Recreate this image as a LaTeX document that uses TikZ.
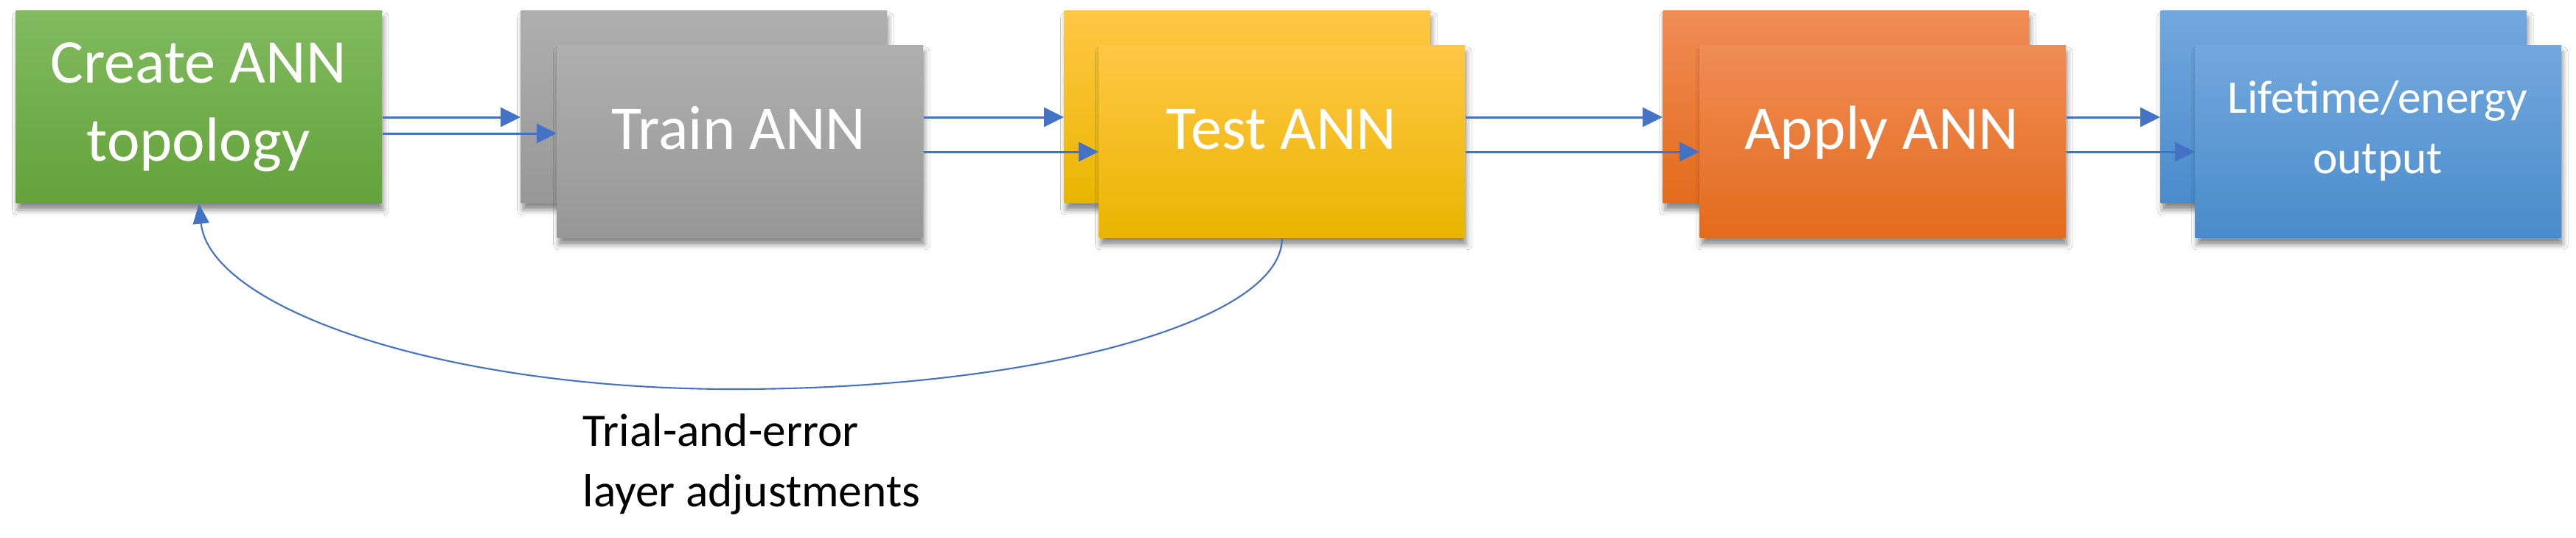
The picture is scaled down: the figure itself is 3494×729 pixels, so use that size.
\documentclass[tikz,border=0pt]{standalone}
\usepackage{fontspec}
\setmainfont{Carlito}
\usetikzlibrary{arrows.meta,shadows.blur}
\definecolor{arrowblue}{HTML}{4472C4}
\definecolor{gTop}{HTML}{81BA60}\definecolor{gMid}{HTML}{70AD47}\definecolor{gBot}{HTML}{64A23A}
\definecolor{kTop}{HTML}{AFAFAF}\definecolor{kMid}{HTML}{A5A5A5}\definecolor{kBot}{HTML}{979797}
\definecolor{yTop}{HTML}{FFC745}\definecolor{yMid}{HTML}{FFC000}\definecolor{yBot}{HTML}{EAB500}
\definecolor{oTop}{HTML}{F08C55}\definecolor{oMid}{HTML}{ED7D31}\definecolor{oBot}{HTML}{E36B1C}
\definecolor{bTop}{HTML}{72A8DD}\definecolor{bMid}{HTML}{5B9BD5}\definecolor{bBot}{HTML}{4A8BCB}
\tikzset{
  stage/.style={anchor=north west, minimum width=4.96cm, minimum height=2.61cm,
    inner sep=0pt, draw=none,
    blur shadow={shadow xshift=0.02cm, shadow yshift=-0.09cm, shadow blur radius=0.07cm, shadow opacity=45}},
  gbox/.style={stage, top color=gTop, middle color=gMid, bottom color=gBot},
  kbox/.style={stage, top color=kTop, middle color=kMid, bottom color=kBot},
  ybox/.style={stage, top color=yTop, middle color=yMid, bottom color=yBot},
  obox/.style={stage, top color=oTop, middle color=oMid, bottom color=oBot},
  bbox/.style={stage, top color=bTop, middle color=bMid, bottom color=bBot},
  flow/.style={draw=arrowblue, line width=0.85pt, -{Triangle[length=0.27cm,width=0.26cm]}},
  feedback/.style={draw=arrowblue, line width=0.6pt, -{Triangle[length=0.27cm,width=0.22cm]}},
  bigtext/.style={text=white, font=\fontsize{24}{30}\selectfont, anchor=base, inner sep=0pt, align=center},
  midtext/.style={text=white, font=\fontsize{18}{23.3}\selectfont, anchor=base, inner sep=0pt, align=center},
  note/.style={text=black, font=\fontsize{18}{23.3}\selectfont, anchor=base west, inner sep=0pt, align=left}
}
\begin{document}
\begin{tikzpicture}[x=0.01cm, y=-0.01cm]
\useasboundingbox (0,0) rectangle (3494,729);
\fill[white] (0,0) rectangle (3494,729);
\coordinate (rowA) at (0,159);
\coordinate (rowB) at (0,206);
\coordinate (rowC) at (0,181);
\coordinate (low) at (996,528);
% boxes
\node[gbox] (create) at (21,14) {};
\node[kbox] (trainb) at (706,14) {};
\node[kbox] (trainf) at (755,61) {};
\node[ybox] (testb) at (1443,14) {};
\node[ybox] (testf) at (1490,61) {};
\node[obox] (applyb) at (2255,14) {};
\node[obox] (applyf) at (2305,61) {};
\node[bbox] (outb) at (2930,14) {};
\node[bbox] (outf) at (2977,61) {};
% texts (base anchor = baseline of the last line)
\node[bigtext] (createT) at (269,218) {Create ANN\\topology};
\node[bigtext] (trainT) at (1002,202) {Train ANN};
\node[bigtext] (testT) at (1738,202) {Test ANN};
\node[bigtext] (applyT) at (2552,202) {Apply ANN};
\node[midtext] (outT) at (3225,235) {Lifetime/energy\\output};
\node[note] (noteT) at (790,687) {Trial-and-error\\layer adjustments};
% connectors
\draw[flow] (create.east |- rowA) -- (trainb.west |- rowA);
\draw[flow] (create.east |- rowC) -- (trainf.west |- rowC);
\draw[flow] (trainf.east |- rowA) -- (testb.west |- rowA);
\draw[flow] (trainf.east |- rowB) -- (testf.west |- rowB);
\draw[flow] (testf.east |- rowA) -- (applyb.west |- rowA);
\draw[flow] (testf.east |- rowB) -- (applyf.west |- rowB);
\draw[flow] (applyf.east |- rowA) -- (outb.west |- rowA);
\draw[flow] (applyf.east |- rowB) -- (outf.west |- rowB);
\draw[feedback] (testf.south) .. controls +(0,113) and +(409,0) .. (low)
  .. controls +(-401,0) and +(15,140) .. (create.south);
\end{tikzpicture}
\end{document}
